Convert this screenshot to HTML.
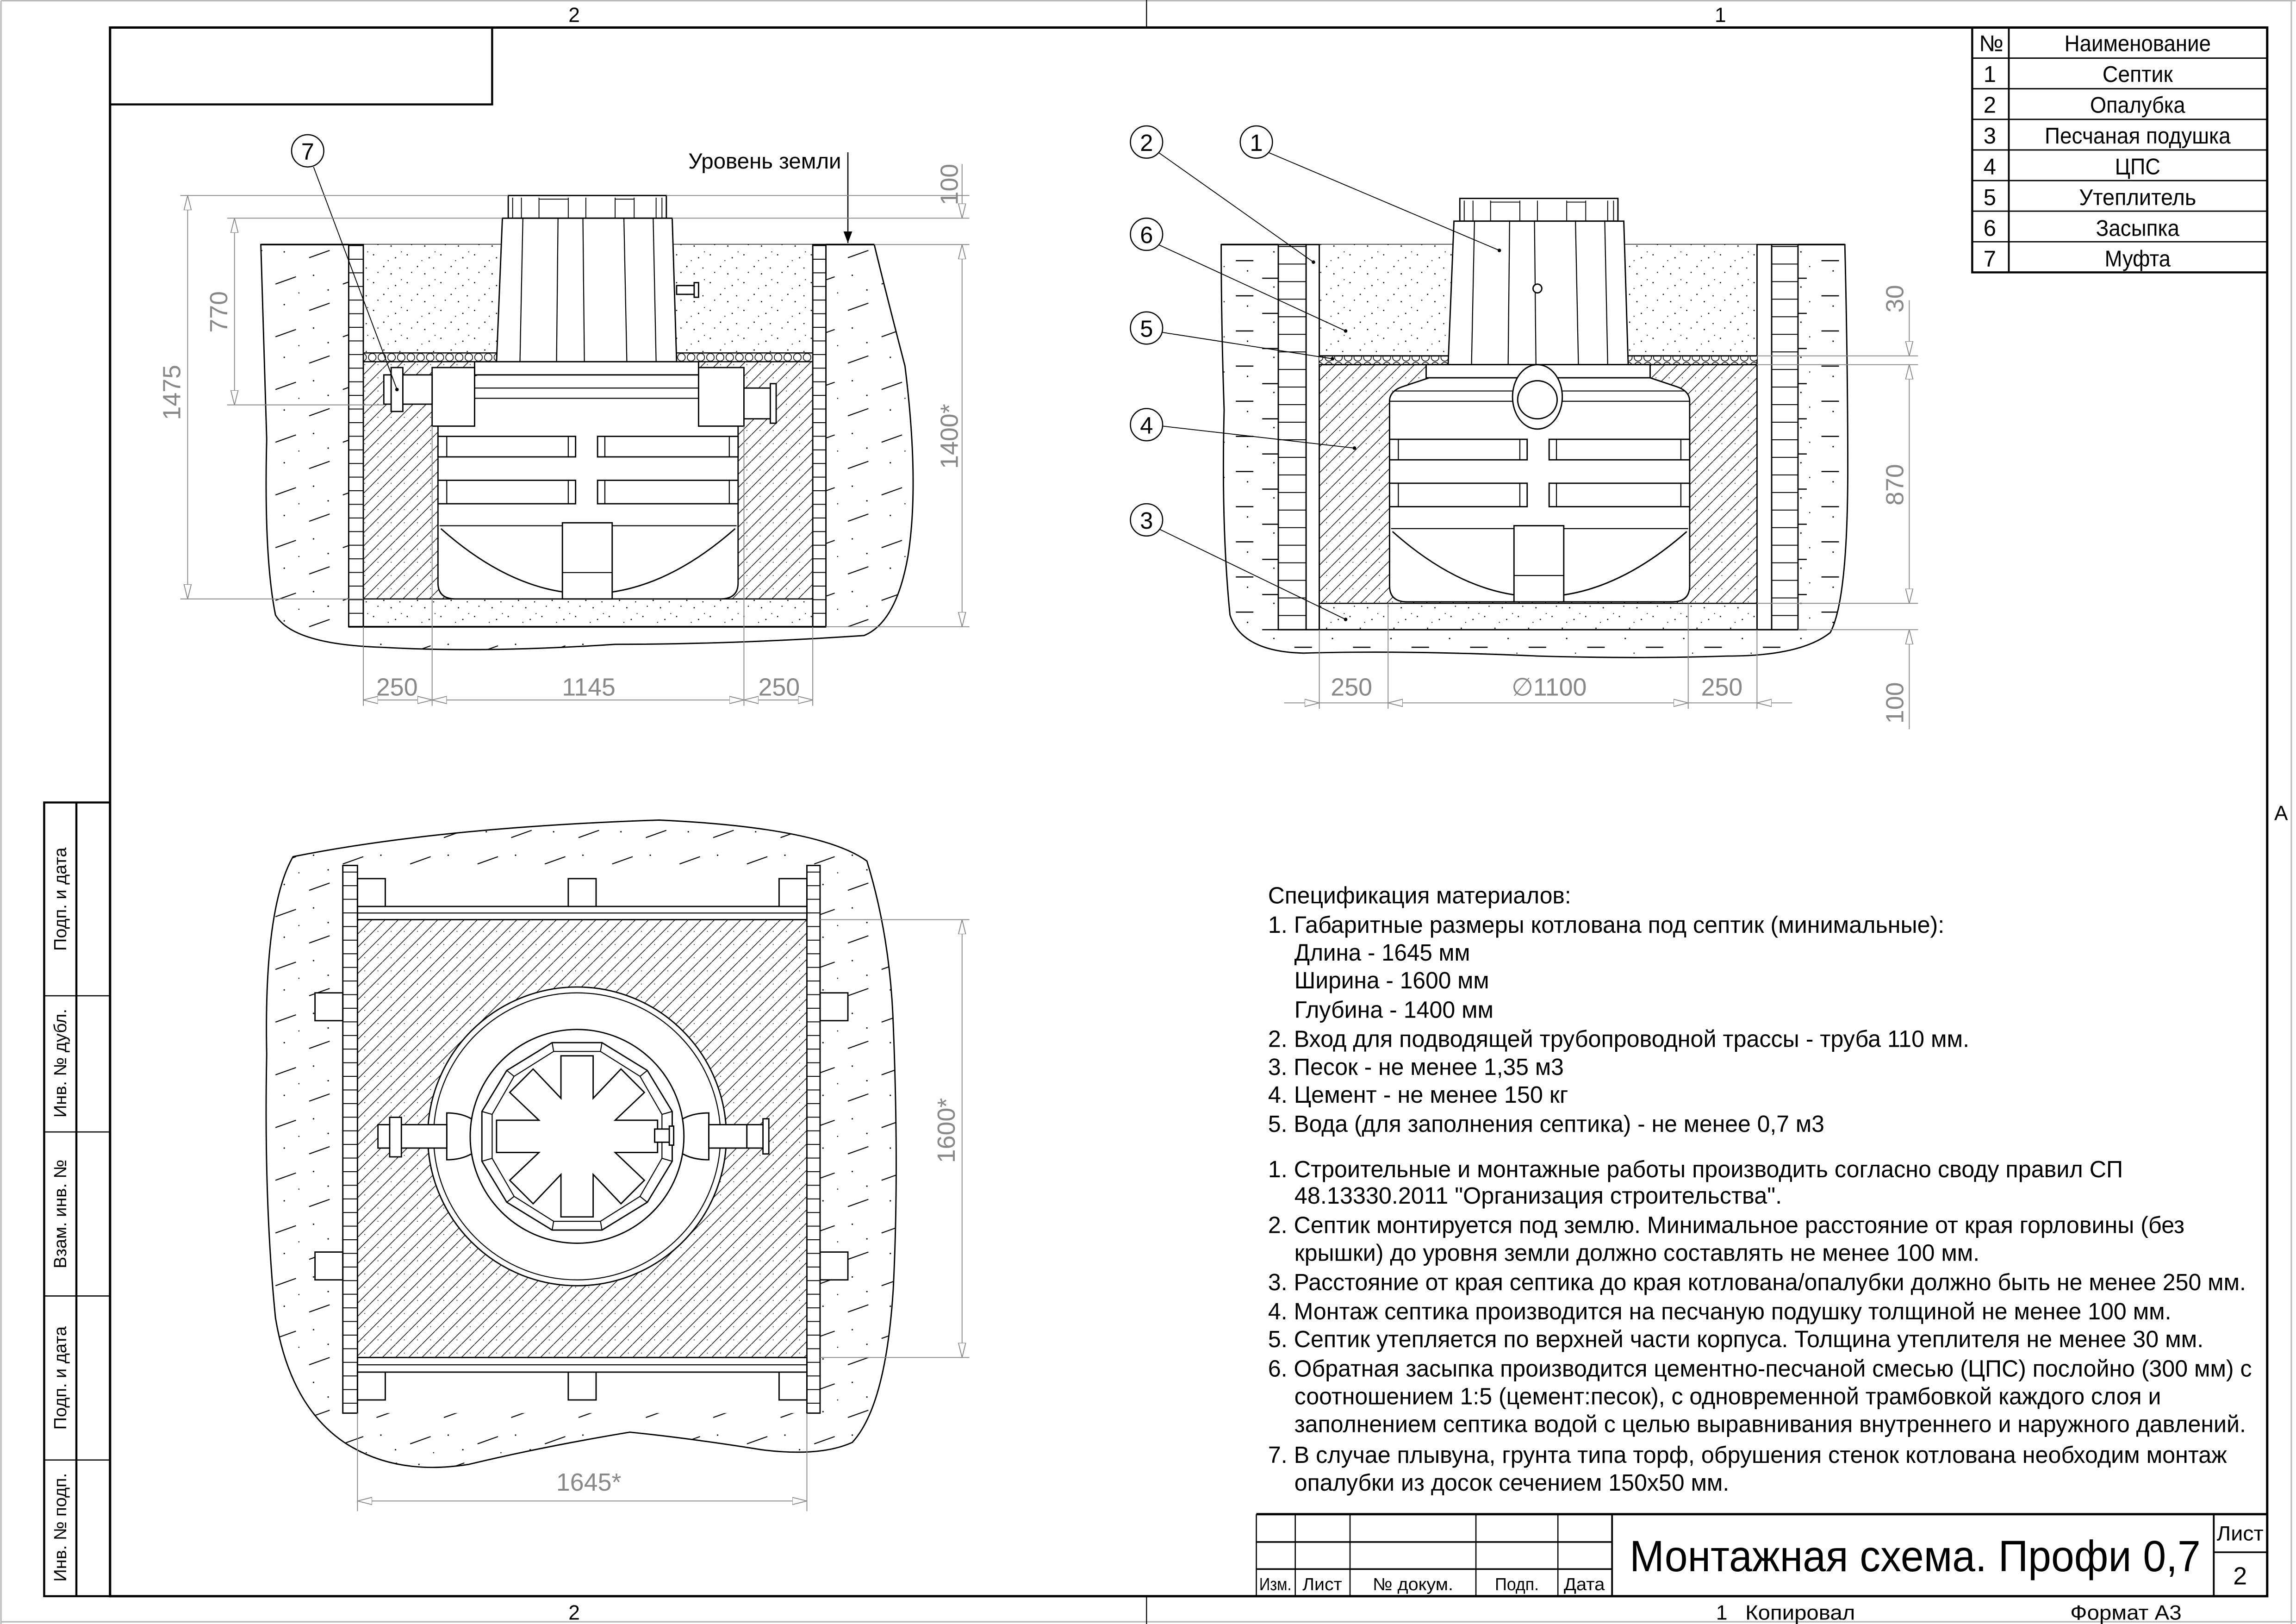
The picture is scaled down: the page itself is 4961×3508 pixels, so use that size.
<!DOCTYPE html>
<html><head><meta charset="utf-8">
<style>
html,body{margin:0;padding:0;background:#fff}
svg{display:block}
text{font-family:"Liberation Sans",sans-serif}
</style></head>
<body>
<svg xmlns="http://www.w3.org/2000/svg" width="4961" height="3508" viewBox="0 0 1568 1109">
<defs>
<pattern id="soil" patternUnits="userSpaceOnUse" width="46" height="36">
<path d="M4 14 l14 -5 M27 32 l14 -5" stroke="#000" stroke-width="0.7"/>
<circle cx="30" cy="8" r="0.5"/><circle cx="10" cy="28" r="0.5"/><circle cx="40" cy="18" r="0.5"/><circle cx="20" cy="20" r="0.4"/>
</pattern>
<pattern id="soilh" patternUnits="userSpaceOnUse" width="40" height="24">
<rect x="4" y="9.6" width="12" height="0.8" fill="#000"/>
<rect x="22" y="21.6" width="12" height="0.8" fill="#000"/>
<circle cx="30" cy="4" r="0.5"/><circle cx="12" cy="17" r="0.5"/><circle cx="36" cy="14" r="0.4"/>
</pattern>
<pattern id="sand" patternUnits="userSpaceOnUse" width="23" height="19">
<circle cx="2" cy="3" r="0.45"/><circle cx="9" cy="11" r="0.45"/><circle cx="17" cy="5" r="0.45"/><circle cx="14" cy="16" r="0.45"/><circle cx="5" cy="15" r="0.4"/><circle cx="20" cy="12" r="0.4"/><circle cx="12" cy="7" r="0.35"/><circle cx="21" cy="1" r="0.35"/>
</pattern>
<pattern id="hatch" patternUnits="userSpaceOnUse" width="9" height="9">
<path d="M-1 10 L10 -1" stroke="#000" stroke-width="0.45"/>
<circle cx="6" cy="6" r="0.3"/>
</pattern>
<pattern id="brk" patternUnits="userSpaceOnUse" width="40" height="9.3">
<path d="M0 0.3 H40" stroke="#000" stroke-width="0.7"/>
</pattern>
<pattern id="brk2" patternUnits="userSpaceOnUse" width="40" height="12">
<path d="M0 0.3 H40" stroke="#000" stroke-width="0.7"/>
</pattern>
<pattern id="ins" patternUnits="userSpaceOnUse" width="6.6" height="6" x="0" y="241">
<circle cx="3.3" cy="3" r="2.6" fill="#fff" stroke="#000" stroke-width="0.5"/>
</pattern>
<marker id="ar" markerWidth="10" markerHeight="6" refX="10" refY="3" orient="auto-start-reverse" markerUnits="userSpaceOnUse">
<path d="M0 0.5 L10 3 L0 5.5 Z" fill="#fff" stroke="#888" stroke-width="0.6"/>
</marker>
<marker id="ab" markerWidth="8" markerHeight="6" refX="8" refY="3" orient="auto" markerUnits="userSpaceOnUse">
<path d="M0 0 L8 3 L0 6 Z" fill="#000"/>
</marker>

<g id="tank" fill="#fff" stroke="#000" stroke-width="0.9">
<rect x="347" y="133.5" width="108" height="15.5"/>
<path d="M350 135 v14 M356 135 v14 M368 135 v14 M388 135 v14 M400 135 v14 M420 135 v14 M433 135 v14 M448 135 v14 M452 135 v14" stroke-width="0.6" fill="none"/>
<path d="M368 136 h20 M420 136 h13" stroke-width="0.6"/>
<polygon points="343,149 459,149 462,247 339,247"/>
<path d="M357 149 L355 247 M381 149 L380 247 M398 149 L399 247 M426 149 L428 247 M446 149 L448 247" fill="none" stroke-width="0.7"/>
<rect x="324" y="247" width="153" height="9"/>
<path d="M299 272 Q299 265 308 262 L326 256 L477 256 L495 262 Q504 265 504 272 L504 398 Q504 409 492 409 L311 409 Q299 409 299 398 Z"/>
<path d="M302 265 H501 M299 272 H504" fill="none" stroke-width="0.7"/>
<rect x="299" y="298" width="94" height="14"/><rect x="408" y="298" width="96" height="14"/>
<rect x="299" y="328" width="94" height="16"/><rect x="408" y="328" width="96" height="16"/>
<path d="M305 298 v14 M388 298 v14 M413 298 v14 M498 298 v14 M305 328 v16 M388 328 v16 M413 328 v16 M498 328 v16" stroke-width="0.7"/>
<path d="M300 359 H503" fill="none" stroke-width="0.7"/>
<path d="M301 361 Q401 450 502 361" fill="none"/>
<rect x="384" y="357" width="34" height="52"/>
<path d="M384 391 H418" stroke-width="0.7"/>
</g>
</defs>

<rect width="1568" height="1109" fill="#fff"/>

<g fill="none" stroke="#000">
<path d="M0.5 0.5 H1568 M0.5 0.5 V1109 M1565 0 V1109 M0 1107.5 H1568" stroke="#bbb" stroke-width="1"/>
<rect x="75" y="18.8" width="1473.5" height="1071.2" stroke-width="1.6"/>
<path d="M783 0 V18.8 M783 1090 V1109" stroke-width="0.7"/>
<rect x="75" y="18.8" width="261" height="52.5" stroke-width="1.4"/>
<rect x="30" y="548" width="45" height="542" stroke-width="1.4"/>
<path d="M52 548 V1090" stroke-width="1.4"/>
<path d="M30 680 H75 M30 773 H75 M30 885 H75 M30 997 H75" stroke-width="0.8"/>
</g>
<g font-size="12" text-anchor="middle">
<text transform="translate(45 614) rotate(-90)">Подп. и дата</text>
<text transform="translate(45 726) rotate(-90)">Инв. № дубл.</text>
<text transform="translate(45 829) rotate(-90)">Взам. инв. №</text>
<text transform="translate(45 941) rotate(-90)">Подп. и дата</text>
<text transform="translate(45 1043) rotate(-90)">Инв. № подп.</text>
</g>
<g font-size="14" text-anchor="middle">
<text x="392" y="15">2</text><text x="1175" y="15">1</text>
<text x="392" y="1106">2</text>
<text x="1558" y="560">A</text>
</g>
<text x="1172" y="1106" font-size="14">1</text>
<text x="1192" y="1106" font-size="14" textLength="75" lengthAdjust="spacingAndGlyphs">Копировал</text>
<text x="1414" y="1106" font-size="14" textLength="76" lengthAdjust="spacingAndGlyphs">Формат А3</text>

<g fill="none" stroke="#000">
<rect x="1347" y="18.8" width="201.5" height="167.2" stroke-width="1.4"/>
<path d="M1372 18.8 V186" stroke-width="1.2"/>
<path d="M1347 39.7 H1548 M1347 60.6 H1548 M1347 81.5 H1548 M1347 102.4 H1548 M1347 123.3 H1548 M1347 144.2 H1548 M1347 165.1 H1548" stroke-width="0.9"/>
</g>
<g font-size="15.5" text-anchor="middle">
<text x="1360" y="35">№</text><text x="1460" y="35" textLength="100" lengthAdjust="spacingAndGlyphs">Наименование</text>
<text x="1359" y="56">1</text><text x="1460" y="56" textLength="48" lengthAdjust="spacingAndGlyphs">Септик</text>
<text x="1359" y="77">2</text><text x="1460" y="77" textLength="65" lengthAdjust="spacingAndGlyphs">Опалубка</text>
<text x="1359" y="98">3</text><text x="1460" y="98" textLength="127" lengthAdjust="spacingAndGlyphs">Песчаная подушка</text>
<text x="1359" y="119">4</text><text x="1460" y="119" textLength="31" lengthAdjust="spacingAndGlyphs">ЦПС</text>
<text x="1359" y="140">5</text><text x="1460" y="140" textLength="80" lengthAdjust="spacingAndGlyphs">Утеплитель</text>
<text x="1359" y="161">6</text><text x="1460" y="161" textLength="57" lengthAdjust="spacingAndGlyphs">Засыпка</text>
<text x="1359" y="182">7</text><text x="1460" y="182" textLength="45" lengthAdjust="spacingAndGlyphs">Муфта</text>
</g>

<g fill="none" stroke="#000">
<path d="M858 1034 H1548" stroke-width="1.6"/>
<path d="M858 1034 V1090 M884.6 1034 V1090 M922 1034 V1090 M1008 1034 V1090 M1064 1034 V1090" stroke-width="0.8"/>
<path d="M1101 1034 V1090 M1512 1034 V1090" stroke-width="1.2"/>
<path d="M858 1053 H1101 M858 1071.5 H1101 M1512 1060 H1548" stroke-width="1.1"/>
</g>
<g font-size="12" text-anchor="middle">
<text x="871" y="1086" textLength="22" lengthAdjust="spacingAndGlyphs">Изм.</text>
<text x="903" y="1086" textLength="27" lengthAdjust="spacingAndGlyphs">Лист</text>
<text x="965" y="1086" textLength="55" lengthAdjust="spacingAndGlyphs">№ докум.</text>
<text x="1036" y="1086" textLength="30" lengthAdjust="spacingAndGlyphs">Подп.</text>
<text x="1082" y="1086" textLength="28" lengthAdjust="spacingAndGlyphs">Дата</text>
<text x="1530" y="1052" font-size="14" textLength="32" lengthAdjust="spacingAndGlyphs">Лист</text>
<text x="1530" y="1082" font-size="17">2</text>
</g>
<text x="1113" y="1073" font-size="30" textLength="390" lengthAdjust="spacingAndGlyphs">Монтажная схема. Профи 0,7</text>

<!-- LEFT SECTION -->
<path d="M178 167 L597 167 Q605 200 618 250 Q628 330 620 380 Q612 425 590 434 Q500 440 420 440 Q330 446 260 442 Q200 440 188 420 Q180 380 182 300 Q180 230 178 167 Z" fill="url(#soil)" stroke="#000" stroke-width="0.9"/>
<rect x="238" y="167" width="326" height="261" fill="#fff"/>
<rect x="248" y="167" width="307" height="74" fill="url(#sand)"/>
<rect x="248" y="247" width="307" height="162" fill="url(#hatch)"/>
<rect x="248" y="409" width="307" height="19" fill="url(#sand)" stroke="#000" stroke-width="0.8"/>
<rect x="248" y="241" width="307" height="6" fill="url(#ins)"/>
<path d="M248 241 H555 M248 247 H555" stroke="#000" stroke-width="0.8"/>
<rect x="238" y="167" width="10" height="261" fill="url(#brk)" stroke="#000" stroke-width="0.9"/>
<rect x="555" y="167" width="9" height="261" fill="url(#brk)" stroke="#000" stroke-width="0.9"/>
<path d="M238 428 H564" stroke="#000" stroke-width="1.2"/>
<path d="M178 167 H238 M564 167 H597" stroke="#000" stroke-width="1.1"/>
<use href="#tank"/>
<g fill="#fff" stroke="#000" stroke-width="0.9">
<rect x="295" y="251" width="29" height="40"/>
<rect x="477" y="251" width="31" height="40"/>
<rect x="262" y="256" width="33" height="20"/>
<rect x="267" y="251" width="8" height="30"/>
<rect x="508" y="265" width="19" height="21"/>
<rect x="526" y="262" width="4" height="27"/>
<rect x="462" y="195" width="13" height="6"/>
<rect x="474" y="193" width="3" height="10"/>
</g>
<circle cx="210" cy="103" r="11" fill="#fff" stroke="#000" stroke-width="0.8"/>
<text x="210" y="109" font-size="16" text-anchor="middle">7</text>
<path d="M214 114 L271 266" stroke="#000" stroke-width="0.6"/><circle cx="271" cy="266" r="1.2"/>
<text x="470" y="115" font-size="15">Уровень земли</text>
<path d="M579 104 V166" stroke="#000" stroke-width="0.8" marker-end="url(#ab)"/>
<g stroke="#888" stroke-width="0.6" fill="none">
<path d="M123 133.5 H347 M455 133.5 H662 M155 149 H343 M459 149 H662 M597 167 H662 M155 276.5 H262 M123 409 H248 M564 428 H662"/>
<path d="M248 428 V482 M295 291 V482 M508 291 V482 M555 428 V482"/>
<path d="M128 133.5 V409" marker-start="url(#ar)" marker-end="url(#ar)"/>
<path d="M160 149 V276.5" marker-start="url(#ar)" marker-end="url(#ar)"/>
<path d="M657 112 V149" marker-end="url(#ar)"/>
<path d="M657 167 V428" marker-start="url(#ar)" marker-end="url(#ar)"/>
<path d="M248 478 H295" marker-start="url(#ar)" marker-end="url(#ar)"/>
<path d="M295 478 H508" marker-start="url(#ar)" marker-end="url(#ar)"/>
<path d="M508 478 H555" marker-start="url(#ar)" marker-end="url(#ar)"/>
</g>
<g fill="#888" font-size="17" text-anchor="middle">
<text transform="translate(123 268) rotate(-90)">1475</text>
<text transform="translate(155 213) rotate(-90)">770</text>
<text transform="translate(654 126) rotate(-90)">100</text>
<text transform="translate(654 298) rotate(-90)">1400*</text>
<text x="271" y="475">250</text><text x="402" y="475">1145</text><text x="532" y="475">250</text>
</g>

<!-- RIGHT SECTION -->
<path d="M834 167 L1260 167 Q1262 250 1262 320 Q1262 410 1250 432 Q1230 448 1180 448 Q1120 450 1050 448 Q960 444 890 446 Q848 445 840 420 Q834 360 836 280 Q834 220 834 167 Z" fill="url(#soilh)" stroke="#000" stroke-width="0.9"/>
<rect x="873" y="167" width="355" height="263" fill="#fff"/>
<rect x="873" y="167" width="19" height="263" fill="url(#brk2)" stroke="#000" stroke-width="0.9"/>
<rect x="1210" y="167" width="18" height="263" fill="url(#brk2)" stroke="#000" stroke-width="0.9"/>
<rect x="892" y="167" width="9" height="263" fill="#fff" stroke="#000" stroke-width="0.9"/>
<rect x="1200" y="167" width="10" height="263" fill="#fff" stroke="#000" stroke-width="0.9"/>
<rect x="901" y="167" width="299" height="76" fill="url(#sand)"/>
<rect x="901" y="249" width="299" height="163" fill="url(#hatch)"/>
<rect x="901" y="412" width="299" height="18" fill="url(#sand)" stroke="#000" stroke-width="0.8"/>
<rect x="901" y="243" width="299" height="6" fill="url(#ins)"/>
<path d="M901 243 H1200 M901 249 H1200 M873 430 H1228" stroke="#000" stroke-width="0.9"/>
<path d="M834 167 H873 M1228 167 H1260" stroke="#000" stroke-width="1.1"/>
<g transform="translate(650 2)"><use href="#tank"/></g>
<g fill="#fff" stroke="#000" stroke-width="0.9">
<ellipse cx="1050" cy="271" rx="17" ry="22"/>
<ellipse cx="1050" cy="273" rx="13.5" ry="13"/>
<circle cx="1050" cy="197" r="3"/>
</g>
<g stroke="#000" stroke-width="0.6" fill="none">
<path d="M791 104 L897 179 M866 104 L1024 171 M791 167 L919 226 M794 227 L910 245 M794 291 L925 306 M791 361 L919 423"/>
</g>
<g fill="#000"><circle cx="897" cy="179" r="1.2"/><circle cx="1024" cy="171" r="1.2"/><circle cx="919" cy="226" r="1.2"/><circle cx="910" cy="245" r="1.2"/><circle cx="925" cy="306" r="1.2"/><circle cx="919" cy="423" r="1.2"/></g>
<g fill="#fff" stroke="#000" stroke-width="0.8">
<circle cx="783" cy="97" r="11"/><circle cx="858" cy="97" r="11"/><circle cx="783" cy="160" r="11"/><circle cx="783" cy="224" r="11"/><circle cx="783" cy="290" r="11"/><circle cx="783" cy="355" r="11"/>
</g>
<g font-size="16" text-anchor="middle">
<text x="783" y="103">2</text><text x="858" y="103">1</text><text x="783" y="166">6</text><text x="783" y="230">5</text><text x="783" y="296">4</text><text x="783" y="361">3</text>
</g>
<g stroke="#888" stroke-width="0.6" fill="none">
<path d="M1200 243 H1310 M1200 249 H1310 M1200 412 H1310 M1228 430 H1310"/>
<path d="M901 430 V484 M948 412 V484 M1153 412 V484 M1200 430 V484"/>
<path d="M1304 205 V243" marker-end="url(#ar)"/>
<path d="M1304 249 V412" marker-start="url(#ar)" marker-end="url(#ar)"/>
<path d="M1304 430 V498" marker-start="url(#ar)"/>
<path d="M877 480 H901" marker-end="url(#ar)"/>
<path d="M948 480 H1153" marker-start="url(#ar)" marker-end="url(#ar)"/>
<path d="M1200 480 H1224" marker-start="url(#ar)"/>
<path d="M901 480 H948 M1153 480 H1200"/>
</g>
<g fill="#888" font-size="17" text-anchor="middle">
<text transform="translate(1300 204) rotate(-90)">30</text>
<text transform="translate(1300 331) rotate(-90)">870</text>
<text transform="translate(1300 480) rotate(-90)">100</text>
<text x="923" y="475">250</text><text x="1058" y="475">∅1100</text><text x="1176" y="475">250</text>
</g>

<!-- PLAN VIEW -->
<path d="M200 585 Q300 565 450 560 Q560 565 592 588 Q608 640 610 700 Q614 800 610 880 Q605 960 582 985 Q560 995 520 990 Q470 982 430 978 Q370 988 320 1000 Q270 1008 235 985 Q198 960 188 900 Q180 820 182 720 Q180 620 200 585 Z" fill="url(#soil)" stroke="#000" stroke-width="0.9"/>
<rect x="234" y="591" width="326" height="374" fill="#fff"/>
<rect x="244" y="628" width="307" height="299" fill="url(#hatch)"/>
<g fill="#fff" stroke="#000" stroke-width="0.9">
<rect x="244" y="619" width="307" height="9"/>
<rect x="244" y="927" width="307" height="10"/>
<rect x="244" y="600" width="19" height="19"/><rect x="388" y="600" width="19" height="19"/><rect x="532" y="600" width="19" height="19"/>
<rect x="244" y="937" width="19" height="19"/><rect x="388" y="937" width="19" height="19"/><rect x="532" y="937" width="19" height="19"/>
<rect x="215" y="678" width="19" height="19"/><rect x="215" y="855" width="19" height="19"/>
<rect x="560" y="678" width="19" height="19"/><rect x="560" y="855" width="19" height="19"/>
</g>
<path d="M244 623.5 H551 M244 932 H551" stroke="#000" stroke-width="0.7"/>
<rect x="234" y="591" width="10" height="374" fill="url(#brk)" stroke="#000" stroke-width="0.9"/>
<rect x="551" y="591" width="9" height="374" fill="url(#brk)" stroke="#000" stroke-width="0.9"/>
<g fill="#fff" stroke="#000" stroke-width="0.9">
<circle cx="394" cy="776" r="102"/>
<circle cx="394" cy="776" r="98" fill="none" stroke-width="0.7"/>
<path d="M326 767 Q318 760 305 760 L305 792 Q318 792 326 785 Z"/>
<path d="M462 767 Q470 760 484 760 L484 792 Q470 792 462 785 Z"/>
<rect x="258" y="768" width="47" height="16"/>
<rect x="266" y="763" width="8" height="27"/>
<rect x="484" y="768" width="26" height="16"/>
<rect x="521" y="764" width="4" height="24"/>
<rect x="510" y="768" width="11" height="16" fill="#fff"/>
<circle cx="394" cy="776" r="73"/>
</g>
<g transform="translate(394 776)" stroke="#000" stroke-width="0.9" fill="#fff">
<polygon points="-17,-64 17,-64 48,-45 65,-17 65,17 48,45 17,64 -17,64 -48,45 -65,17 -65,-17 -48,-45"/>
<polygon points="-16,-58 16,-58 43,-41 58,-15 58,15 43,41 16,58 -16,58 -43,41 -58,15 -58,-15 -43,-41" stroke-width="0.7"/>
<path d="M-17 -64 L-16 -58 M17 -64 L16 -58 M48 -45 L43 -41 M65 -17 L58 -15 M65 17 L58 15 M48 45 L43 41 M17 64 L16 58 M-17 64 L-16 58 M-48 45 L-43 41 M-65 17 L-58 15 M-65 -17 L-58 -15 M-48 -45 L-43 -41" stroke-width="0.7"/>
<polygon points="-11,-55 11,-55 11,-26 30,-46 46,-30 26,-11 55,-11 55,11 26,11 46,30 30,46 11,26 11,55 -11,55 -11,26 -30,46 -46,30 -26,11 -55,11 -55,-11 -26,-11 -46,-30 -30,-46 -11,-26"/>
<rect x="53" y="-5" width="11" height="9"/>
<rect x="63" y="-7" width="3" height="13"/>
</g>
<g stroke="#888" stroke-width="0.6" fill="none">
<path d="M560 628 H662 M560 927 H662"/>
<path d="M657 628 V927" marker-start="url(#ar)" marker-end="url(#ar)"/>
<path d="M244 965 V1032 M551 965 V1032"/>
<path d="M244 1025 H551" marker-start="url(#ar)" marker-end="url(#ar)"/>
</g>
<g fill="#888" font-size="17" text-anchor="middle">
<text transform="translate(652 772) rotate(-90)">1600*</text>
<text x="402" y="1018">1645*</text>
</g>

<!-- SPEC TEXT -->
<g font-size="16">
<text x="866" y="617" textLength="207" lengthAdjust="spacingAndGlyphs">Спецификация материалов:</text>
<text x="866" y="637" textLength="462" lengthAdjust="spacingAndGlyphs">1. Габаритные размеры котлована под септик (минимальные):</text>
<text x="884" y="656" textLength="120" lengthAdjust="spacingAndGlyphs">Длина - 1645 мм</text>
<text x="884" y="675" textLength="133" lengthAdjust="spacingAndGlyphs">Ширина - 1600 мм</text>
<text x="884" y="695" textLength="136" lengthAdjust="spacingAndGlyphs">Глубина - 1400 мм</text>
<text x="866" y="715" textLength="479" lengthAdjust="spacingAndGlyphs">2. Вход для подводящей трубопроводной трассы - труба 110 мм.</text>
<text x="866" y="734" textLength="202" lengthAdjust="spacingAndGlyphs">3. Песок - не менее 1,35 м3</text>
<text x="866" y="753" textLength="205" lengthAdjust="spacingAndGlyphs">4. Цемент - не менее 150 кг</text>
<text x="866" y="773" textLength="380" lengthAdjust="spacingAndGlyphs">5. Вода (для заполнения септика) - не менее 0,7 м3</text>
<text x="866" y="804" textLength="584" lengthAdjust="spacingAndGlyphs">1. Строительные и монтажные работы производить согласно своду правил СП</text>
<text x="884" y="822" textLength="333" lengthAdjust="spacingAndGlyphs">48.13330.2011 "Организация строительства".</text>
<text x="866" y="842" textLength="626" lengthAdjust="spacingAndGlyphs">2. Септик монтируется под землю. Минимальное расстояние от края горловины (без</text>
<text x="884" y="861" textLength="468" lengthAdjust="spacingAndGlyphs">крышки) до уровня земли должно составлять не менее 100 мм.</text>
<text x="866" y="881" textLength="668" lengthAdjust="spacingAndGlyphs">3. Расстояние от края септика до края котлована/опалубки должно быть не менее 250 мм.</text>
<text x="866" y="901" textLength="617" lengthAdjust="spacingAndGlyphs">4. Монтаж септика производится на песчаную подушку толщиной не менее 100 мм.</text>
<text x="866" y="920" textLength="639" lengthAdjust="spacingAndGlyphs">5. Септик утепляется по верхней части корпуса. Толщина утеплителя не менее 30 мм.</text>
<text x="866" y="940" textLength="672" lengthAdjust="spacingAndGlyphs">6. Обратная засыпка производится цементно-песчаной смесью (ЦПС) послойно (300 мм) с</text>
<text x="884" y="959" textLength="592" lengthAdjust="spacingAndGlyphs">соотношением 1:5 (цемент:песок), с одновременной трамбовкой каждого слоя и</text>
<text x="884" y="978" textLength="650" lengthAdjust="spacingAndGlyphs">заполнением септика водой с целью выравнивания внутреннего и наружного давлений.</text>
<text x="866" y="999" textLength="655" lengthAdjust="spacingAndGlyphs">7. В случае плывуна, грунта типа торф, обрушения стенок котлована необходим монтаж</text>
<text x="884" y="1018" textLength="297" lengthAdjust="spacingAndGlyphs">опалубки из досок сечением 150х50 мм.</text>
</g>
</svg>
</body></html>
